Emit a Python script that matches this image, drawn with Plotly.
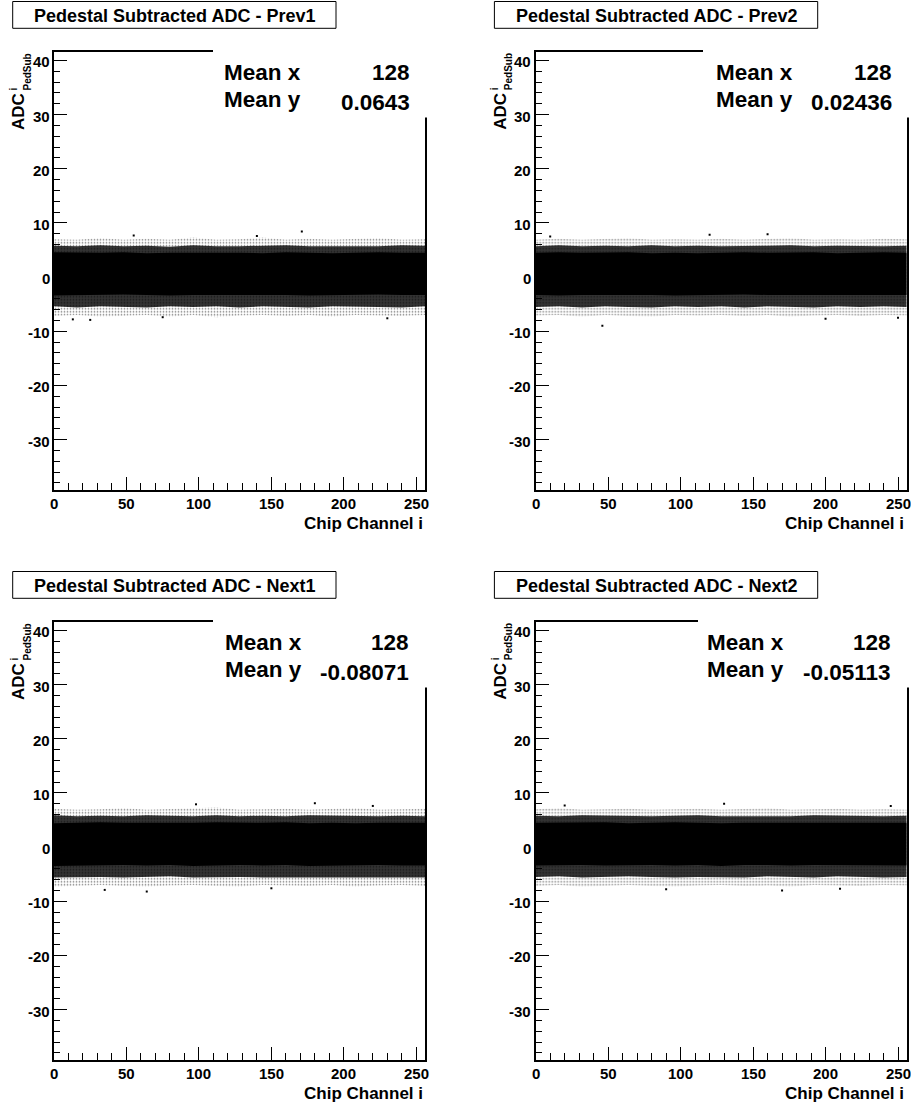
import plotly.graph_objects as go

W, H = 911, 1106

# ---------------- data ----------------
channels = [0, 16, 32, 48, 64, 80, 96, 112, 128, 144, 160, 176, 192, 208, 224, 240, 256]

panel_titles = ["Pedestal Subtracted ADC - Prev1", "Pedestal Subtracted ADC - Prev2",
                "Pedestal Subtracted ADC - Next1", "Pedestal Subtracted ADC - Next2"]
mean_x = ["128", "128", "128", "128"]
mean_y = ["0.0643", "0.02436", "-0.08071", "-0.05113"]

x_tick_vals = [0, 50, 100, 150, 200, 250]
y_tick_vals = [-30, -20, -10, 0, 10, 20, 30, 40]

# solid (saturated) core of the point cloud
prev1_core_hi = [4.6, 4.5, 4.5, 4.6, 4.4, 4.5, 4.5, 4.6, 4.5, 4.4, 4.6, 4.5, 4.4, 4.5, 4.6, 4.5, 4.5]
prev1_core_lo = [-3.4, -3.3, -3.3, -3.2, -3.3, -3.4, -3.3, -3.3, -3.2, -3.3, -3.3, -3.4, -3.3, -3.3, -3.2, -3.3, -3.3]
prev2_core_hi = [4.5, 4.6, 4.5, 4.5, 4.6, 4.4, 4.5, 4.4, 4.5, 4.6, 4.5, 4.5, 4.6, 4.4, 4.5, 4.6, 4.5]
prev2_core_lo = [-3.3, -3.4, -3.3, -3.3, -3.2, -3.3, -3.4, -3.3, -3.3, -3.2, -3.3, -3.3, -3.4, -3.3, -3.3, -3.3, -3.3]
next1_core_hi = [4.4, 4.5, 4.6, 4.5, 4.5, 4.4, 4.5, 4.6, 4.5, 4.5, 4.6, 4.4, 4.5, 4.4, 4.5, 4.5, 4.5]
next1_core_lo = [-3.5, -3.4, -3.4, -3.3, -3.4, -3.3, -3.5, -3.4, -3.3, -3.4, -3.3, -3.5, -3.4, -3.4, -3.3, -3.4, -3.4]
next2_core_hi = [4.5, 4.5, 4.5, 4.6, 4.4, 4.5, 4.6, 4.5, 4.4, 4.5, 4.5, 4.6, 4.5, 4.5, 4.6, 4.5, 4.5]
next2_core_lo = [-3.4, -3.3, -3.3, -3.4, -3.3, -3.3, -3.4, -3.3, -3.5, -3.3, -3.3, -3.4, -3.3, -3.3, -3.4, -3.3, -3.4]

# dense speckle zone
prev1_dense_hi = [5.8, 5.7, 5.9, 5.7, 5.8, 5.6, 5.9, 5.7, 5.7, 5.8, 5.9, 5.7, 5.7, 5.8, 5.7, 5.9, 5.8]
prev1_dense_lo = [-5.4, -5.6, -5.4, -5.5, -5.6, -5.4, -5.5, -5.4, -5.6, -5.4, -5.5, -5.6, -5.4, -5.4, -5.5, -5.6, -5.4]
prev2_dense_hi = [5.7, 5.9, 5.7, 5.8, 5.7, 5.9, 5.7, 5.8, 5.7, 5.7, 5.8, 5.9, 5.7, 5.8, 5.7, 5.7, 5.8]
prev2_dense_lo = [-5.5, -5.4, -5.6, -5.4, -5.5, -5.6, -5.4, -5.5, -5.4, -5.6, -5.4, -5.5, -5.6, -5.4, -5.5, -5.4, -5.5]
next1_dense_hi = [5.9, 5.7, 5.8, 5.7, 5.9, 5.8, 5.7, 5.9, 5.7, 5.8, 5.7, 5.9, 5.8, 5.7, 5.7, 5.8, 5.7]
next1_dense_lo = [-5.6, -5.5, -5.5, -5.6, -5.5, -5.4, -5.6, -5.5, -5.5, -5.6, -5.6, -5.5, -5.5, -5.6, -5.5, -5.5, -5.6]
next2_dense_hi = [5.8, 5.7, 5.9, 5.8, 5.7, 5.7, 5.8, 5.9, 5.7, 5.7, 5.8, 5.7, 5.9, 5.8, 5.7, 5.7, 5.8]
next2_dense_lo = [-5.5, -5.4, -5.6, -5.5, -5.4, -5.5, -5.6, -5.5, -5.5, -5.6, -5.4, -5.5, -5.6, -5.4, -5.5, -5.6, -5.5]

# sparse outer envelope
prev1_sparse_hi = [7.0, 6.9, 7.2, 6.9, 7.1, 6.9, 7.3, 6.9, 7.0, 7.3, 6.9, 7.1, 6.9, 7.0, 7.2, 6.9, 7.0]
prev1_sparse_lo = [-7.2, -7.0, -7.3, -7.1, -7.0, -7.3, -7.0, -7.4, -7.1, -7.0, -7.2, -7.0, -7.3, -7.0, -7.1, -7.2, -7.0]
prev2_sparse_hi = [6.9, 7.1, 6.9, 7.0, 7.2, 6.9, 7.0, 6.9, 7.1, 6.9, 7.0, 7.2, 6.9, 7.0, 6.9, 7.1, 7.0]
prev2_sparse_lo = [-7.1, -7.0, -7.3, -7.0, -7.2, -7.3, -7.0, -7.1, -7.0, -7.2, -7.0, -7.3, -7.1, -7.0, -7.2, -7.0, -7.1]
next1_sparse_hi = [7.1, 6.9, 7.0, 7.2, 6.9, 7.0, 7.1, 7.3, 6.9, 7.0, 7.1, 6.9, 7.0, 7.2, 6.9, 7.0, 7.1]
next1_sparse_lo = [-7.3, -7.1, -7.0, -7.2, -7.3, -7.1, -7.0, -7.2, -7.3, -7.0, -7.1, -7.2, -7.0, -7.3, -7.1, -7.0, -7.2]
next2_sparse_hi = [7.0, 7.2, 6.9, 7.0, 7.1, 6.9, 7.0, 7.1, 6.9, 7.0, 7.2, 6.9, 7.0, 7.1, 6.9, 7.0, 6.9]
next2_sparse_lo = [-7.2, -7.0, -7.3, -7.1, -7.0, -7.2, -7.3, -7.1, -7.0, -7.2, -7.1, -7.3, -7.0, -7.1, -7.2, -7.0, -7.1]

# isolated outlying points
prev1_out_x = [13, 55, 171, 25, 75, 140, 230]
prev1_out_y = [-7.8, 7.7, 8.4, -7.9, -7.4, 7.6, -7.6]
prev2_out_x = [46, 120, 200, 10, 160, 250]
prev2_out_y = [-9.0, 7.8, -7.7, 7.5, 7.9, -7.5]
next1_out_x = [35, 98, 150, 180, 220, 64]
next1_out_y = [-7.9, 7.9, -7.6, 8.1, 7.6, -8.2]
next2_out_x = [20, 90, 130, 210, 245, 170]
next2_out_y = [7.7, -7.8, 8.0, -7.7, 7.6, -8.0]

series = [
    (prev1_core_hi, prev1_core_lo, prev1_dense_hi, prev1_dense_lo, prev1_sparse_hi, prev1_sparse_lo, prev1_out_x, prev1_out_y),
    (prev2_core_hi, prev2_core_lo, prev2_dense_hi, prev2_dense_lo, prev2_sparse_hi, prev2_sparse_lo, prev2_out_x, prev2_out_y),
    (next1_core_hi, next1_core_lo, next1_dense_hi, next1_dense_lo, next1_sparse_hi, next1_sparse_lo, next1_out_x, next1_out_y),
    (next2_core_hi, next2_core_lo, next2_dense_hi, next2_dense_lo, next2_sparse_hi, next2_sparse_lo, next2_out_x, next2_out_y),
]

# ---------------- layout helpers ----------------
def px(p):
    return p / W

def py(p):
    return 1 - p / H

FONT = "Liberation Sans, Arial, Helvetica, sans-serif"

# per panel: (dx, dy, statbox_left, stat_text_left, stat_text_right)
panels = [
    (0.0, 0.0, 213, 222, 412),
    (481.7, 0.0, 703, 714, 894),
    (0.0, 570.0, 213, 223, 411),
    (481.7, 570.0, 698, 705, 893),
]

fig = go.Figure()
shapes = []
annotations = []
layout_axes = {}

def band(fig, xs, hi, lo, xa, ya, **fillkw):
    fig.add_trace(go.Scatter(x=xs, y=hi, mode="lines", line=dict(width=0),
                             showlegend=False, hoverinfo="skip", xaxis=xa, yaxis=ya))
    fig.add_trace(go.Scatter(x=xs, y=lo, mode="lines", line=dict(width=0),
                             fill="tonexty", showlegend=False, hoverinfo="skip",
                             xaxis=xa, yaxis=ya, **fillkw))

for i, (dx, dy, sb_l, st_l, st_r) in enumerate(panels):
    n = "" if i == 0 else str(i + 1)
    xa, ya = "x" + n, "y" + n
    core_hi, core_lo, dense_hi, dense_lo, sparse_hi, sparse_lo, ox, oy = series[i]

    band(fig, channels, sparse_hi, sparse_lo, xa, ya,
         fillpattern=dict(shape=".", fgcolor="black", bgcolor="white", size=3, solidity=0.25))
    band(fig, channels, dense_hi, dense_lo, xa, ya, fillcolor="rgba(0,0,0,0.8)")
    band(fig, channels, core_hi, core_lo, xa, ya, fillcolor="black")

    fig.add_trace(go.Scatter(x=ox, y=oy, mode="markers",
                             marker=dict(size=2, color="black", symbol="square"),
                             showlegend=False, hoverinfo="skip", xaxis=xa, yaxis=ya))

    x0p, x1p = 54 + dx, 425 + dx
    y0p, y1p = 52.3 + dy, 490 + dy
    layout_axes["xaxis" + n] = dict(
        domain=[px(x0p), px(x1p)], anchor=ya, range=[0, 256],
        tickmode="array", tickvals=x_tick_vals, showticklabels=False,
        ticks="inside", ticklen=13, tickwidth=1, tickcolor="black",
        minor=dict(ticks="inside", ticklen=7, dtick=10, tick0=0, tickcolor="black", tickwidth=1),
        showline=True, linecolor="black", linewidth=2, mirror=True,
        showgrid=False, zeroline=False,
    )
    layout_axes["yaxis" + n] = dict(
        domain=[py(y1p), py(y0p)], anchor=xa, range=[-39.3, 41.5],
        tickmode="array", tickvals=y_tick_vals, showticklabels=False,
        ticks="inside", ticklen=13, tickwidth=1, tickcolor="black",
        minor=dict(ticks="inside", ticklen=6, dtick=2, tick0=0, tickcolor="black", tickwidth=1),
        showline=True, linecolor="black", linewidth=2, mirror=True,
        showgrid=False, zeroline=False,
    )

    # bold tick labels, positioned through the axes
    for v in x_tick_vals:
        annotations.append(dict(text="<b>%d</b>" % v, xref=xa, yref="paper",
                                x=v, y=py(503.5 + dy), xanchor="center", yanchor="middle",
                                showarrow=False, borderpad=0,
                                font=dict(family=FONT, size=15, color="black")))
    for v in y_tick_vals:
        annotations.append(dict(text="<b>%d</b>" % v, xref="paper", yref=ya,
                                x=px(50.5 + dx), y=v, xanchor="right", yanchor="middle",
                                yshift=-1.5, showarrow=False, borderpad=0,
                                font=dict(family=FONT, size=15, color="black")))

    # title box
    shapes.append(dict(type="rect", xref="paper", yref="paper",
                       x0=px(12.7 + dx), x1=px(336 + dx),
                       y0=py(28.3 + dy), y1=py(1.5 + dy),
                       line=dict(color="black", width=1), fillcolor="white", layer="above"))
    annotations.append(dict(text="<b>" + panel_titles[i] + "</b>", xref="paper", yref="paper",
                            x=px(174.4 + dx), y=py(16 + dy), xanchor="center", yanchor="middle",
                            showarrow=False, font=dict(family=FONT, size=18, color="black")))

    # stats box (white, borderless)
    shapes.append(dict(type="rect", xref="paper", yref="paper",
                       x0=px(sb_l), x1=px(min(428 + dx, W)),
                       y0=py(117.5 + dy), y1=py(50 + dy),
                       line=dict(width=0), fillcolor="white", layer="above"))
    annotations.append(dict(text="<b>Mean x</b>", xref="paper", yref="paper",
                            x=px(st_l), y=py(72.5 + dy), xanchor="left", yanchor="middle",
                            showarrow=False, font=dict(family=FONT, size=22.5, color="black")))
    annotations.append(dict(text="<b>Mean y</b>", xref="paper", yref="paper",
                            x=px(st_l), y=py(99.5 + dy), xanchor="left", yanchor="middle",
                            showarrow=False, font=dict(family=FONT, size=22.5, color="black")))
    annotations.append(dict(text="<b>" + mean_x[i] + "</b>", xref="paper", yref="paper",
                            x=px(st_r), y=py(72.5 + dy), xanchor="right", yanchor="middle",
                            showarrow=False, font=dict(family=FONT, size=22.5, color="black")))
    annotations.append(dict(text="<b>" + mean_y[i] + "</b>", xref="paper", yref="paper",
                            x=px(st_r), y=py(102.5 + dy), xanchor="right", yanchor="middle",
                            showarrow=False, font=dict(family=FONT, size=22.5, color="black")))

    # x axis title
    annotations.append(dict(text="<b>Chip Channel i</b>", xref="paper", yref="paper",
                            x=px(424.5 + dx), y=py(523 + dy), xanchor="right", yanchor="middle",
                            showarrow=False, font=dict(family=FONT, size=17, color="black")))
    # y axis title: ADC with stacked i / PedSub
    annotations.append(dict(text="<b>ADC</b>", xref="paper", yref="paper",
                            x=px(18.5 + dx), y=py(131 + dy), xanchor="center", yanchor="bottom",
                            textangle=-90, showarrow=False, borderpad=0,
                            font=dict(family=FONT, size=17, color="black")))
    annotations.append(dict(text="<b>PedSub</b>", xref="paper", yref="paper",
                            x=px(26.5 + dx), y=py(52.5 + dy), xanchor="center", yanchor="top",
                            textangle=-90, showarrow=False, borderpad=0,
                            font=dict(family=FONT, size=10, color="black")))
    annotations.append(dict(text="<b>i</b>", xref="paper", yref="paper",
                            x=px(13.5 + dx), y=py(89 + dy), xanchor="center", yanchor="middle",
                            textangle=-90, showarrow=False, borderpad=0,
                            font=dict(family=FONT, size=10, color="black")))

fig.update_layout(
    width=W, height=H, autosize=False,
    margin=dict(l=0, r=0, t=0, b=0, pad=0),
    paper_bgcolor="white", plot_bgcolor="white",
    showlegend=False,
    shapes=shapes, annotations=annotations,
    **layout_axes,
)

fig.write_html("out.html")
